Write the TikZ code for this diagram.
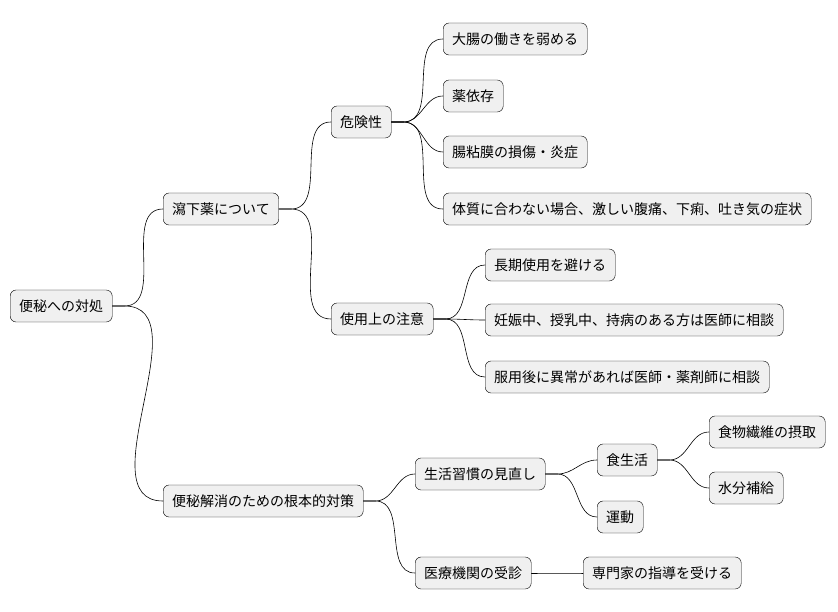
\documentclass[tikz,border=0pt]{standalone}
\usepackage{fontspec}
\setmainfont{Noto Sans CJK JP}
\begin{document}
\begin{tikzpicture}[x=1pt,y=-1pt,line join=round,line cap=round,
    topic/.style={draw=black,fill=black!6,rounded corners=6pt,anchor=west,
      minimum height=32pt,inner xsep=9pt,font=\fontsize{14}{16}\selectfont},
    link/.style={black,line width=0.6pt}]
    \useasboundingbox (0,0) rectangle (838,612);
    % root and branches
    \node[topic] (root) at (10,306) {便秘への対処};
    \node[topic] (laxa) at (163,209) {瀉下薬について};
    \node[topic] (cure) at (163,501) {便秘解消のための根本的対策};
    \node[topic] (risk) at (331,122) {危険性};
    \node[topic] (care) at (331,319) {使用上の注意};
    \node[topic] (r1) at (443,39) {大腸の働きを弱める};
    \node[topic] (r2) at (443,96) {薬依存};
    \node[topic] (r3) at (443,152) {腸粘膜の損傷・炎症};
    \node[topic] (r4) at (443,209) {体質に合わない場合、激しい腹痛、下痢、吐き気の症状};
    \node[topic] (c1) at (485,265) {長期使用を避ける};
    \node[topic] (c2) at (485,320) {妊娠中、授乳中、持病のある方は医師に相談};
    \node[topic] (c3) at (485,377) {服用後に異常があれば医師・薬剤師に相談};
    \node[topic] (life) at (415,474) {生活習慣の見直し};
    \node[topic] (hosp) at (415,573) {医療機関の受診};
    \node[topic] (food) at (597,460) {食生活};
    \node[topic] (move) at (597,517) {運動};
    \node[topic] (fib) at (709,432) {食物繊維の摂取};
    \node[topic] (water) at (709,488) {水分補給};
    \node[topic] (pro) at (583,573) {専門家の指導を受ける};
    % connectors
    \foreach \p/\c in {root/laxa,root/cure,laxa/risk,laxa/care,risk/r1,risk/r2,
        risk/r3,risk/r4,care/c1,care/c2,care/c3,cure/life,cure/hosp,
        life/food,life/move,food/fib,food/water,hosp/pro}
        \draw[link] (\p.east) -- ++(12,0) to[out=0,in=180] (\c.west);
\end{tikzpicture}
\end{document}
